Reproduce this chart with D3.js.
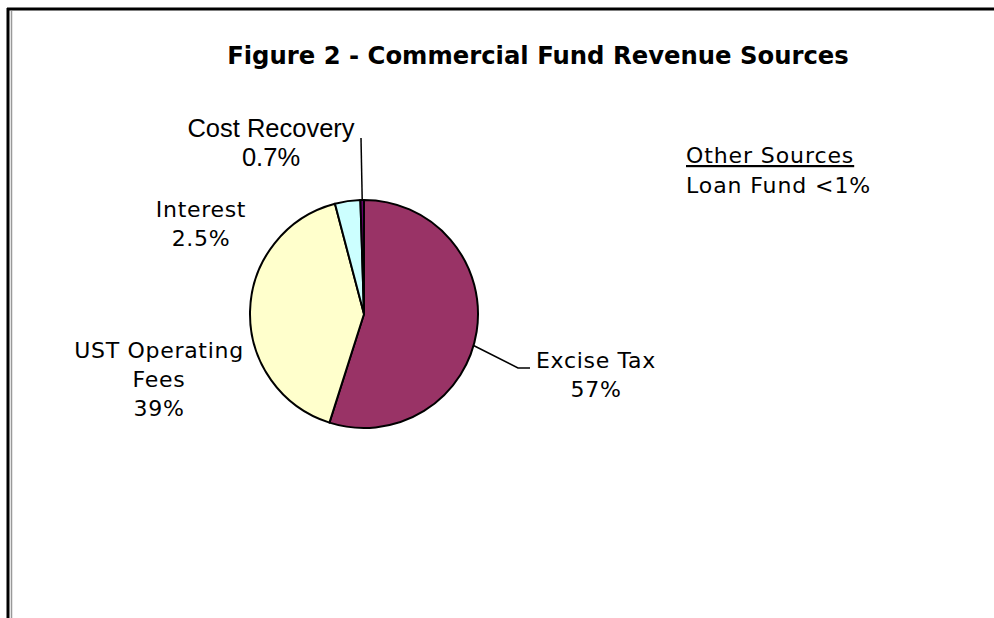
<!DOCTYPE html>
<html>
<head>
<meta charset="utf-8">
<title>Commercial Fund Revenue Sources</title>
<script src="https://cdn.jsdelivr.net/npm/d3@7/dist/d3.min.js"></script>
<style>
body { margin: 0; background: #fff; }
svg { display: block; }
</style>
</head>
<body>
<script>
// slice order clockwise from 12 o'clock
var sources = ["Excise Tax", "UST Operating Fees", "Interest", "Cost Recovery"];
var shares = [54.9, 41.0, 3.6, 0.5];           // slice sizes as drawn
var shareLabels = ["57%", "39%", "2.5%", "0.7%"]; // percentages printed on the chart
var colors = ["#993366", "#FFFFCC", "#CCFFFF", "#660066"];

var width = 994, height = 618;
var cx = 364, cy = 314, r = 114;

var svg = d3.select("body").append("svg")
  .attr("width", width).attr("height", height);

// frame
svg.append("line").attr("x1", 8).attr("y1", 8).attr("x2", 8).attr("y2", height)
  .attr("stroke", "#000").attr("stroke-width", 3);
svg.append("line").attr("x1", 7).attr("y1", 9).attr("x2", width).attr("y2", 9)
  .attr("stroke", "#000").attr("stroke-width", 3);
svg.append("line").attr("x1", 11.5).attr("y1", 11).attr("x2", 11.5).attr("y2", height)
  .attr("stroke", "#999").attr("stroke-width", 1.5);

// title
svg.append("text")
  .attr("x", 538).attr("y", 64)
  .attr("text-anchor", "middle")
  .attr("font-family", "DejaVu Sans, Verdana, sans-serif")
  .attr("font-weight", "bold")
  .attr("font-size", "24.3px")
  .text("Figure 2 - Commercial Fund Revenue Sources");

// pie
var pie = d3.pie().sort(null).value(function(d) { return d; });
var arc = d3.arc().innerRadius(0).outerRadius(r);
var arcs = pie(shares);

var g = svg.append("g").attr("transform", "translate(" + cx + "," + cy + ")");
g.selectAll("path")
  .data(arcs)
  .enter()
  .append("path")
  .attr("d", arc)
  .attr("fill", function(d, i) { return colors[i]; })
  .attr("stroke", "#000")
  .attr("stroke-width", 2)
  .attr("stroke-linejoin", "round");

// leader lines
var leader = d3.line();
var exStart = [cx + r * Math.cos(0.28), cy + r * Math.sin(0.28)];
svg.append("path")
  .attr("d", leader([exStart, [518, 368], [530, 368]]))
  .attr("fill", "none").attr("stroke", "#000").attr("stroke-width", 1.5);

var crA = (arcs[3].startAngle + arcs[3].endAngle) / 2 - Math.PI / 2;
svg.append("path")
  .attr("d", leader([[cx + r * Math.cos(crA), cy + r * Math.sin(crA)], [361, 138]]))
  .attr("fill", "none").attr("stroke", "#000").attr("stroke-width", 1.5);

// data labels
var labelFont = "DejaVu Sans, Verdana, sans-serif";
var labels = [
  { lines: ["Excise Tax", shareLabels[0]], x: 596, y: 368, font: labelFont, size: 22, ls: 0.7 },
  { lines: ["UST Operating", "Fees", shareLabels[1]], x: 159, y: 358, font: labelFont, size: 22, ls: 0.7 },
  { lines: ["Interest", shareLabels[2]], x: 201, y: 217, font: labelFont, size: 22, ls: 0.7 },
  { lines: ["Cost Recovery", shareLabels[3]], x: 271, y: 137, font: "Liberation Sans, Arial, sans-serif", size: 25.5, ls: 0 }
];
labels.forEach(function(l) {
  var t = svg.append("text")
    .attr("text-anchor", "middle")
    .attr("font-family", l.font)
    .attr("font-size", l.size + "px")
    .attr("letter-spacing", l.ls)
    .attr("fill", "#000");
  l.lines.forEach(function(s, i) {
    t.append("tspan").attr("x", l.x).attr("y", l.y + i * 29).text(s);
  });
});

// note
var note = svg.append("g").attr("font-family", labelFont).attr("font-size", "22px")
  .attr("letter-spacing", 0.9);
note.append("text").attr("x", 686).attr("y", 163)
  .attr("text-decoration", "underline").text("Other Sources");
note.append("text").attr("x", 686).attr("y", 193).text("Loan Fund <1%");
</script>
</body>
</html>
